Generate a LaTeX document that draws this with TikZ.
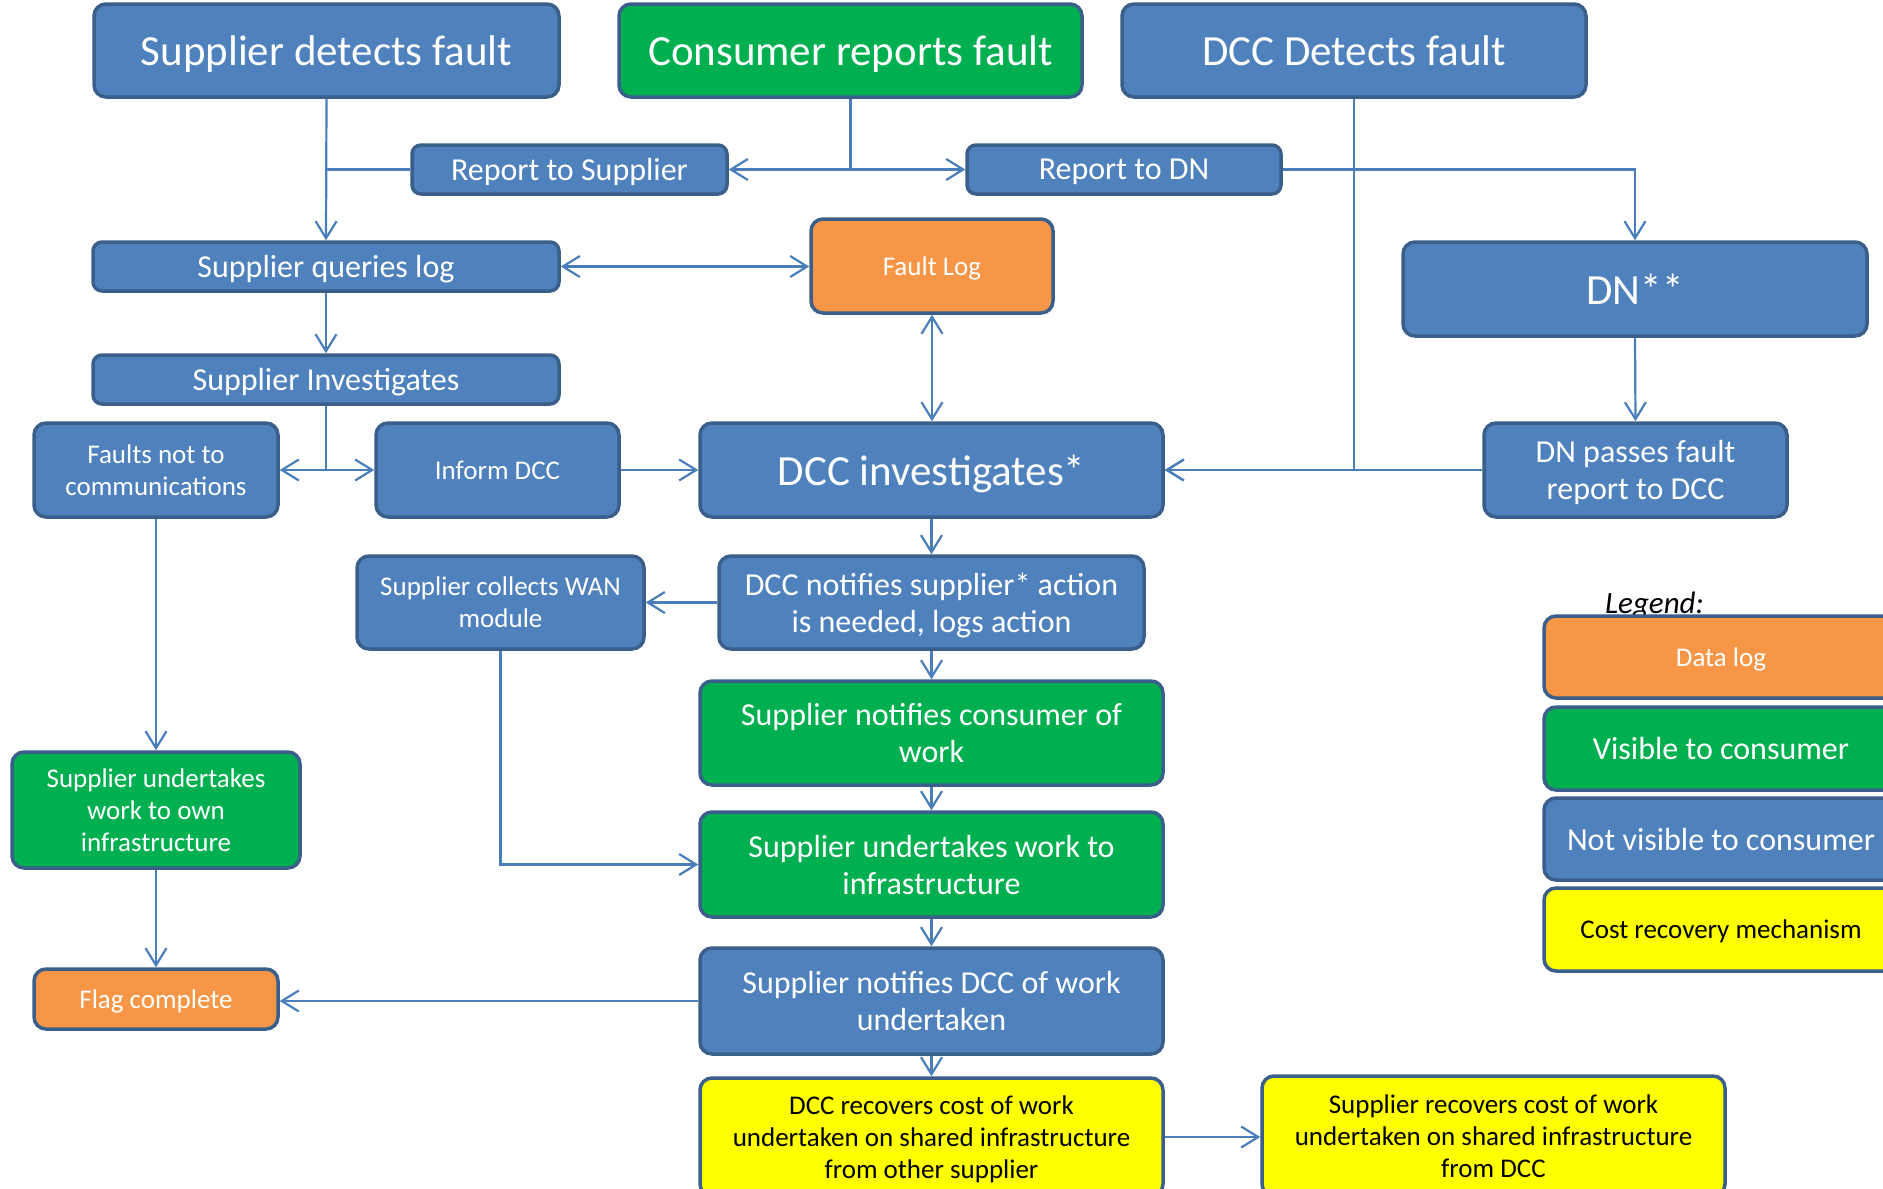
\documentclass[tikz,border=0pt]{standalone}
\usepackage{fontspec}
\setmainfont{Carlito}
\usetikzlibrary{arrows.meta}

\definecolor{boxblue}{HTML}{4F81BD}
\definecolor{boxedge}{HTML}{3A5F8B}
\definecolor{boxgreen}{HTML}{00B050}
\definecolor{boxorange}{HTML}{F79646}
\definecolor{boxyellow}{HTML}{FFFF00}
\definecolor{linkblue}{HTML}{4A7EBB}

\tikzset{
  box/.style={rectangle, draw=boxedge, line width=3.5pt, rounded corners=12pt,
    align=center, inner sep=2pt, text=white, anchor=center, text depth=0pt},
  bluebox/.style={box, fill=boxblue},
  greenbox/.style={box, fill=boxgreen},
  orangebox/.style={box, fill=boxorange},
  yellowbox/.style={box, fill=boxyellow, text=black},
  sz/.style 2 args={minimum width=#1pt, minimum height=#2pt},
  bigtxt/.style={font=\fontsize{43}{51}\selectfont},
  midtxt/.style={font=\fontsize{32}{37}\selectfont},
  smalltxt/.style={font=\fontsize{27}{32}\selectfont},
  link/.style={draw=linkblue, line width=2.2pt},
  arr/.style={link, -{Straight Barb[length=17pt,width=21pt]}},
  arrboth/.style={link, {Straight Barb[length=17pt,width=21pt]}-{Straight Barb[length=17pt,width=21pt]}},
}

\begin{document}
\begin{tikzpicture}[x=1pt, y=-1pt]
  \useasboundingbox (0,0) rectangle (1883,1189);
  \fill[white] (0,0) rectangle (1883,1189);

  % top row: where a fault is first seen
  \node[bluebox, bigtxt, sz={465}{93}] (sdf) at (326.5,50.5) {Supplier detects fault};
  \node[greenbox, bigtxt, sz={463}{93}] (crf) at (850.5,50.5) {Consumer reports fault};
  \node[bluebox, bigtxt, sz={464}{93}] (ddf) at (1354,50.5) {DCC Detects fault};

  \node[bluebox, midtxt, sz={315}{49}, rounded corners=9pt] (rts) at (569.5,169.5) {Report to Supplier};
  \node[bluebox, midtxt, sz={314}{49}, rounded corners=9pt] (rtd) at (1124,169.5) {Report to DN};

  \node[bluebox, midtxt, sz={466}{49}, rounded corners=9pt] (sql) at (326,266.5) {Supplier queries log};
  \node[orangebox, smalltxt, sz={242}{94}] (flog) at (932,266) {Fault Log};
  \node[bluebox, bigtxt, sz={464}{94}] (dn) at (1635,289) {DN**};

  \node[bluebox, midtxt, sz={466}{49}, rounded corners=9pt] (sinv) at (326,379.5) {Supplier Investigates};

  % investigation row
  \node[bluebox, smalltxt, sz={244}{94}] (fnc) at (156,470) {Faults not to\\communications};
  \node[bluebox, smalltxt, sz={243}{94}] (idcc) at (497.5,470) {Inform DCC};
  \node[bluebox, bigtxt, sz={463}{94}] (dinv) at (931.5,470) {DCC investigates*};
  \node[bluebox, midtxt, sz={303}{94}] (dnp) at (1635.5,470) {DN passes fault\\report to DCC};

  \node[bluebox, smalltxt, sz={287}{93}] (wan) at (500.5,602.5) {Supplier collects WAN\\module};
  \node[bluebox, midtxt, sz={425}{93}] (dnot) at (931.5,602.5) {DCC notifies supplier* action\\is needed, logs action};

  % work and completion
  \node[greenbox, midtxt, sz={463}{104}] (snc) at (931.5,733) {Supplier notifies consumer of\\work};
  \node[greenbox, smalltxt, sz={288}{116}] (suo) at (156,810) {Supplier undertakes\\work to own\\infrastructure};
  \node[greenbox, midtxt, sz={463}{105}] (suw) at (931.5,864.5) {Supplier undertakes work to\\infrastructure};
  \node[orangebox, smalltxt, sz={244}{60}] (fc) at (156,999) {Flag complete};
  \node[bluebox, midtxt, sz={463}{106}] (snd) at (931.5,1001) {Supplier notifies DCC of work\\undertaken};

  % cost recovery
  \node[yellowbox, smalltxt, sz={463}{118}] (dcr) at (931.5,1137) {DCC recovers cost of work\\undertaken on shared infrastructure\\from other supplier};
  \node[yellowbox, smalltxt, sz={463}{120}] (scr) at (1493.5,1136) {Supplier recovers cost of work\\undertaken on shared infrastructure\\from DCC};

  % legend
  \node[anchor=base west, inner sep=0pt, text=black, font=\fontsize{31}{37}\selectfont\itshape] (legtitle) at (1605,613) {Legend:};
  \node[orangebox, smalltxt, sz={354}{82}] (legdata) at (1721,657) {Data log};
  \node[greenbox, midtxt, sz={354}{83}] (legvis) at (1721,748.5) {Visible to consumer};
  \node[bluebox, midtxt, sz={354}{82}] (legnot) at (1721,839) {Not visible to consumer};
  \node[yellowbox, smalltxt, sz={354}{83}] (legcost) at (1721,929.5) {Cost recovery mechanism};

  % junction points
  \coordinate (jsup) at (sdf.south |- rts.west);
  \coordinate (jcon) at (crf.south |- rts.east);
  \coordinate (jinv) at (sinv.south |- fnc.east);

  % connectors
  \draw[arr] (sdf.south) -- (sql.north);
  \draw[link] (rts.west) -- (jsup);
  \draw[link] (crf.south) -- (jcon);
  \draw[arr] (jcon) -- (rts.east);
  \draw[arr] (jcon) -- (rtd.west);
  \draw[arr] (rtd.east) -| (dn.north);
  \draw[arr] (ddf.south) |- (dinv.east);
  \draw[arr] (dnp.west) -- (dinv.east);
  \draw[arrboth] (sql.east) -- (flog.west |- sql.east);
  \draw[arrboth] (flog.south) -- (dinv.north -| flog.south);
  \draw[arr] (sql.south) -- (sinv.north);
  \draw[link] (sinv.south) -- (jinv);
  \draw[arr] (jinv) -- (fnc.east);
  \draw[arr] (jinv) -- (idcc.west);
  \draw[arr] (idcc.east) -- (dinv.west);
  \draw[arr] (dn.south) -- (dnp.north);
  \draw[arr] (fnc.south) -- (suo.north);
  \draw[arr] (dinv.south) -- (dnot.north);
  \draw[arr] (dnot.west) -- (wan.east);
  \draw[arr] (dnot.south) -- (snc.north);
  \draw[arr] (wan.south) |- (suw.west);
  \draw[arr] (snc.south) -- (suw.north);
  \draw[arr] (suw.south) -- (snd.north);
  \draw[arr] (suo.south) -- (fc.north);
  \draw[arr] (snd.west) -- (fc.east |- snd.west);
  \draw[arr] (snd.south) -- (dcr.north);
  \draw[arr] (dcr.east) -- (scr.west |- dcr.east);
\end{tikzpicture}
\end{document}
